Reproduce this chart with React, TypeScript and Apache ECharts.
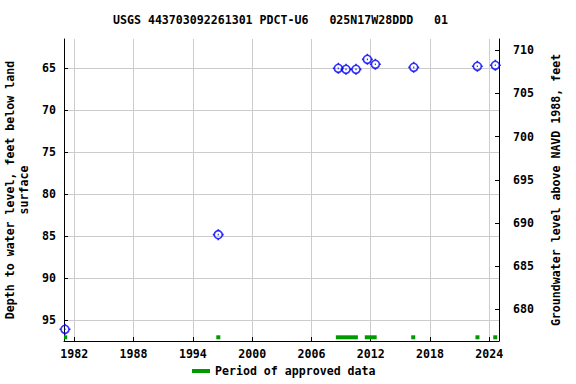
import React, { useEffect, useRef } from "react";
import * as echarts from "echarts";

const title = "USGS 443703092261301 PDCT-U6   025N17W28DDD   01";
const measureYears = [1981.06, 1996.57, 2008.72, 2009.5, 2010.51, 2011.66, 2012.47, 2016.35, 2022.79, 2024.61];
const depthValues = [96.05, 84.79, 65.0, 65.12, 65.12, 63.93, 64.52, 64.88, 64.76, 64.64];
const approvedStart = [1980.96, 1996.4, 2008.47, 2011.4, 2016.1, 2022.6, 2024.4];
const approvedEnd = [1981.2, 1996.75, 2010.7, 2012.6, 2016.5, 2023.0, 2024.8];
const xTicks = [1982, 1988, 1994, 2000, 2006, 2012, 2018, 2024];
const leftTicks = [65, 70, 75, 80, 85, 90, 95];
const rightTicks = [680, 685, 690, 695, 700, 705, 710];

const FONT = "DejaVu Sans Mono";
const tickPath = "path://M0,-5.5L0,-4M0,4L0,5.5M-5.5,0L-4,0M4,0L5.5,0M-0.6,0L0.6,0";

export default function App() {
  const ref = useRef<HTMLDivElement>(null);
  useEffect(() => {
    document.body.style.margin = "0";
    const chart = echarts.init(ref.current!, null, { renderer: "svg" });
    const labelStyle = { fontFamily: FONT, fontWeight: "bold" as const, fontSize: 11.6, color: "#000" };
    const approvedData = approvedStart.map((s, i) => [s, approvedEnd[i], 97.0]);
    const points = measureYears.map((y, i) => [y, depthValues[i]]);
    chart.setOption({
      animation: false,
      backgroundColor: "#fff",
      title: {
        text: title,
        left: 113,
        top: 14,
        padding: 0,
        textStyle: { fontFamily: FONT, fontWeight: "bold", fontSize: 11.6, color: "#000" },
      },
      grid: { left: 64, top: 39, width: 435, height: 302, containLabel: false, outerBoundsMode: "none" },
      legend: {
        left: 192,
        top: 365,
        padding: 0,
        itemWidth: 18,
        itemHeight: 4,
        itemGap: 10,
        data: [{ name: "Period of approved data", icon: "rect", itemStyle: { color: "#009900" } }],
        textStyle: labelStyle,
        selectedMode: false,
      },
      xAxis: {
        type: "value",
        min: 1980.96,
        max: 2024.98,
        axisLine: { show: true, lineStyle: { color: "#000", width: 1 } },
        axisTick: { show: true, inside: true, length: 4, customValues: xTicks, lineStyle: { color: "#000" } },
        axisLabel: { ...labelStyle, customValues: xTicks, margin: 7, formatter: (v: number) => String(Math.round(v)) },
        splitLine: { show: true, lineStyle: { color: "#cccccc", width: 1 } },
      },
      yAxis: [
        {
          type: "value",
          inverse: true,
          min: 61.51,
          max: 97.44,
          name: "Depth to water level, feet below land\nsurface",
          nameLocation: "middle",
          nameRotate: 90,
          nameGap: 33,
          nameTextStyle: { ...labelStyle, lineHeight: 14 },
          axisLine: { show: true, lineStyle: { color: "#000", width: 1 } },
          axisTick: { show: true, inside: true, length: 4, customValues: leftTicks, lineStyle: { color: "#000" } },
          axisLabel: { ...labelStyle, customValues: leftTicks, margin: 8 },
          splitLine: { show: true, lineStyle: { color: "#cccccc", width: 1 } },
        },
        {
          type: "value",
          position: "right",
          min: 676.33,
          max: 711.31,
          name: "Groundwater level above NAVD 1988, feet",
          nameLocation: "middle",
          nameRotate: 90,
          nameGap: 51,
          nameTextStyle: labelStyle,
          axisLine: { show: true, lineStyle: { color: "#000", width: 1 } },
          axisTick: { show: true, inside: true, length: 4, customValues: rightTicks, lineStyle: { color: "#000" } },
          axisLabel: { ...labelStyle, customValues: rightTicks, margin: 14 },
          splitLine: { show: false },
        },
      ],
      series: [
        {
          name: "Period of approved data",
          type: "custom",
          yAxisIndex: 0,
          encode: { x: [0, 1], y: 2 },
          data: approvedData,
          clip: true,
          renderItem: (params: any, api: any) => {
            const a = api.coord([api.value(0), api.value(2)]);
            const b = api.coord([api.value(1), api.value(2)]);
            let w = b[0] - a[0];
            let x = a[0];
            if (w < 4) {
              const c = (a[0] + b[0]) / 2;
              x = c - 2;
              w = 4;
            }
            return {
              type: "rect",
              shape: { x, y: a[1] - 2, width: w, height: 4 },
              style: { fill: "#009900" },
            };
          },
        },
        {
          name: "Measurements",
          type: "scatter",
          yAxisIndex: 0,
          data: points,
          symbol: "circle",
          symbolSize: 8,
          itemStyle: { color: "none", borderColor: "#0000ff", borderWidth: 1.6 },
          z: 5,
        },
        {
          name: "Measurement ticks",
          type: "scatter",
          yAxisIndex: 0,
          data: points,
          symbol: tickPath,
          symbolSize: 11,
          itemStyle: { color: "none", borderColor: "#0000ff", borderWidth: 1.6 },
          z: 6,
        },
      ],
    });
    return () => chart.dispose();
  }, []);
  return <div ref={ref} style={{ width: 576, height: 384 }} />;
}
